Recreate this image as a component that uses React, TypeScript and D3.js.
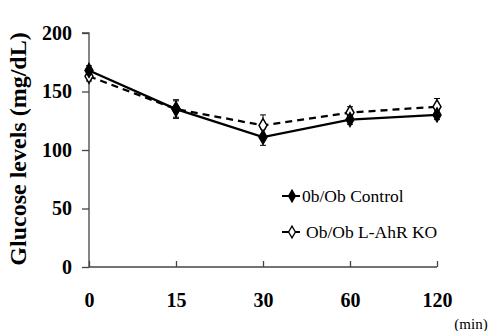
import * as d3 from 'd3';
import { useEffect, useRef } from 'react';

const W = 490;
const H = 331;

const timeLabels = ['0', '15', '30', '60', '120'];
const controlMean = [168, 135, 111, 126, 130];
const controlErr = [4, 7, 7, 4, 4];
const koMean = [163, 135, 121, 132, 137];
const koErr = [4, 8, 9, 5, 7];
const yTicks = [0, 50, 100, 150, 200];

const FONT = '"Liberation Serif", "Times New Roman", serif';

export default function App() {
    const svgRef = useRef<SVGSVGElement | null>(null);

    useEffect(() => {
        if (!svgRef.current) {
            return;
        }
        const svg = d3.select(svgRef.current);
        svg.selectAll('*').remove();

        const x = d3.scalePoint<string>().domain(timeLabels).range([89, 437]).padding(0);
        const y = d3.scaleLinear().domain([0, 200]).range([267, 33]);

        // y axis
        const yAxis = svg
            .append('g')
            .attr('transform', 'translate(89,0)')
            .call(d3.axisLeft(y).tickValues(yTicks).tickSize(7).tickPadding(10));
        yAxis.select('.domain').attr('stroke', '#444').attr('stroke-width', 1.3).attr('d', `M-7,${y(200)}H0V${y(0)}`);
        yAxis.selectAll('line').attr('stroke', '#444').attr('stroke-width', 1.3);
        yAxis
            .selectAll('text')
            .attr('font-family', FONT)
            .attr('font-weight', 'bold')
            .attr('font-size', 20)
            .attr('fill', '#000');

        // x axis, ticks pointing inwards
        const xAxis = svg
            .append('g')
            .attr('transform', `translate(0,${y(0)})`)
            .call(d3.axisBottom(x).tickSize(-6).tickPadding(26));
        xAxis.select('.domain').attr('stroke', '#444').attr('stroke-width', 1.3).attr('d', `M89,0H437`);
        xAxis.selectAll('line').attr('stroke', '#444').attr('stroke-width', 1.3);
        xAxis
            .selectAll('text')
            .attr('font-family', FONT)
            .attr('font-weight', 'bold')
            .attr('font-size', 20)
            .attr('fill', '#000');

        svg.append('text')
            .attr('transform', `translate(26,${(y(0) + y(200)) / 2 - 1}) rotate(-90)`)
            .attr('text-anchor', 'middle')
            .attr('font-family', FONT)
            .attr('font-weight', 'bold')
            .attr('font-size', 24)
            .attr('fill', '#000')
            .text('Glucose levels (mg/dL)');

        svg.append('text')
            .attr('x', 471)
            .attr('y', 329)
            .attr('text-anchor', 'middle')
            .attr('font-family', FONT)
            .attr('font-size', 15)
            .attr('fill', '#000')
            .text('(min)');

        const line = d3
            .line<number>()
            .x((_, i) => x(timeLabels[i]) as number)
            .y((d) => y(d));

        const diamond = d3.symbol().type(d3.symbolDiamond).size(55);

        const series = [
            { mean: koMean, err: koErr, dash: '7,5', fill: '#fff' },
            { mean: controlMean, err: controlErr, dash: null, fill: '#000' },
        ];

        // error bars first
        series.forEach((s) => {
            const eb = svg.append('g');
            s.mean.forEach((m, i) => {
                const cx = x(timeLabels[i]) as number;
                eb.append('line')
                    .attr('x1', cx)
                    .attr('x2', cx)
                    .attr('y1', y(m - s.err[i]))
                    .attr('y2', y(m + s.err[i]))
                    .attr('stroke', '#000')
                    .attr('stroke-width', 1);
                [m - s.err[i], m + s.err[i]].forEach((v) => {
                    eb.append('line')
                        .attr('x1', cx - 3)
                        .attr('x2', cx + 3)
                        .attr('y1', y(v))
                        .attr('y2', y(v))
                        .attr('stroke', '#000')
                        .attr('stroke-width', 1);
                });
            });
        });

        series.forEach((s) => {
            svg.append('path')
                .attr('d', line(s.mean))
                .attr('fill', 'none')
                .attr('stroke', '#000')
                .attr('stroke-width', 2.3)
                .attr('stroke-dasharray', s.dash);
        });

        series.forEach((s) => {
            svg.append('g')
                .selectAll('path')
                .data(s.mean)
                .join('path')
                .attr('d', diamond)
                .attr('transform', (d, i) => `translate(${x(timeLabels[i])},${y(d)})`)
                .attr('fill', s.fill)
                .attr('stroke', '#000')
                .attr('stroke-width', 1.5);
        });

        // legend
        const legend = [
            { label: '0b/Ob Control', fill: '#000', y: 196, dx: 20 },
            { label: 'Ob/Ob L-AhR KO', fill: '#fff', y: 232, dx: 24 },
        ];
        legend.forEach((l) => {
            const g = svg.append('g').attr('transform', `translate(282,${l.y})`);
            g.append('line').attr('x1', 0).attr('x2', 18).attr('stroke', '#000').attr('stroke-width', 2);
            g.append('path')
                .attr('d', d3.symbol().type(d3.symbolDiamond).size(40)())
                .attr('transform', 'translate(10,0)')
                .attr('fill', l.fill)
                .attr('stroke', '#000')
                .attr('stroke-width', 1.3);
            g.append('text')
                .attr('x', l.dx)
                .attr('y', 6)
                .attr('font-family', FONT)
                .attr('font-size', 17.5)
                .attr('fill', '#000')
                .text(l.label);
        });
    }, []);

    return (
        <svg
            ref={svgRef}
            width={W}
            height={H}
            style={{ position: 'absolute', left: 0, top: 0, background: '#fff' }}
        />
    );
}
